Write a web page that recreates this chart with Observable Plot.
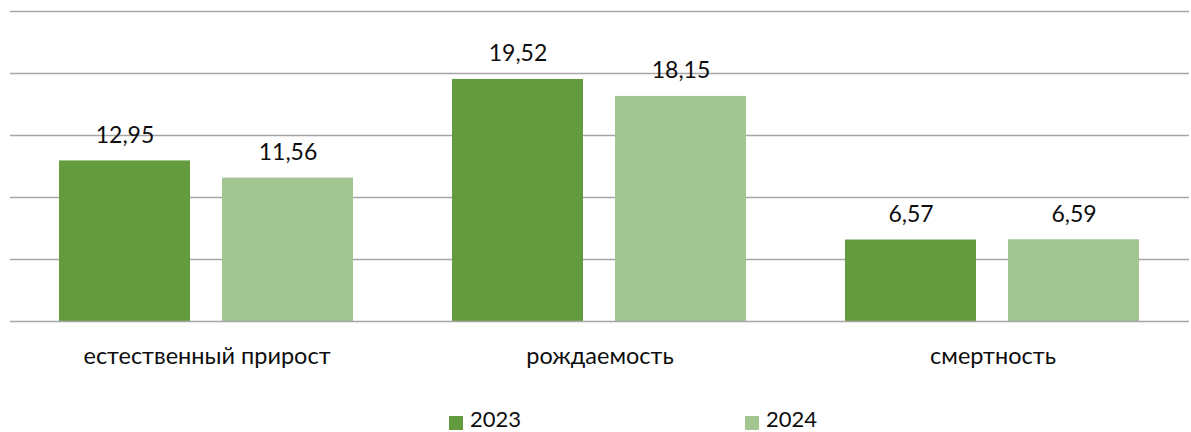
<!DOCTYPE html>
<html>
<head>
<meta charset="utf-8">
<script src="https://cdn.jsdelivr.net/npm/d3@7"></script>
<script src="https://cdn.jsdelivr.net/npm/@observablehq/plot@0.6"></script>
<style>
  html, body { margin: 0; padding: 0; background: #fff; }
  #wrap { position: relative; width: 1191px; height: 432px; overflow: hidden; font-family: Lato, "Open Sans", sans-serif; color: #0d0d0d; }
  .sw { position: absolute; top: 416px; width: 14px; height: 14px; }
  .tx { position: absolute; top: 405px; height: 27px; line-height: 27px; font-size: 22px; white-space: nowrap; }
</style>
</head>
<body>
<div id="wrap"></div>
<script>
const categories = ["естественный прирост", "рождаемость", "смертность"];
const years = ["2023", "2024"];
const values2023 = [12.95, 19.52, 6.57];
const values2024 = [11.56, 18.15, 6.59];
const colors = ["#639B3E", "#A3C592"];
const gridTicks = [5, 10, 15, 20, 25];

const rows = [];
categories.forEach((c, i) => {
  rows.push({category: c, year: years[0], value: values2023[i]});
  rows.push({category: c, year: years[1], value: values2024[i]});
});
const fmt = v => v.toFixed(2).replace(".", ",");

const chart = Plot.plot({
  width: 1191,
  height: 400,
  marginTop: 11,
  marginBottom: 79,
  marginLeft: 10,
  marginRight: 2,
  style: {fontFamily: 'Lato, "Open Sans", sans-serif', color: "#0d0d0d", background: "#fff"},
  fx: {domain: categories, padding: 0, label: null},
  x: {domain: years, paddingInner: 0.196, paddingOuter: 0.3035, axis: null},
  y: {domain: [0, 25], axis: null},
  color: {domain: years, range: colors},
  marks: [
    Plot.ruleY(gridTicks, {stroke: "#a6a6a6", strokeWidth: 1.6, strokeOpacity: 1}),
    Plot.barY(rows, {fx: "category", x: "year", y: "value", fill: "year"}),
    Plot.ruleY([0], {stroke: "#a6a6a6", strokeWidth: 1.6, strokeOpacity: 1}),
    Plot.text(rows, {fx: "category", x: "year", y: "value", text: d => fmt(d.value), lineAnchor: "bottom", dy: -18, fontSize: 23, fill: "#0d0d0d"}),
    Plot.axisFx({anchor: "bottom", tickSize: 0, tickPadding: 26, fontSize: 23.5, label: null, fill: "#0d0d0d"})
  ]
});

const wrap = document.getElementById("wrap");
wrap.appendChild(chart);
const legendPos = [449, 745];
years.forEach((y, i) => {
  const sw = document.createElement("div");
  sw.className = "sw";
  sw.style.left = legendPos[i] + "px";
  sw.style.background = colors[i];
  wrap.appendChild(sw);
  const tx = document.createElement("div");
  tx.className = "tx";
  tx.style.left = (legendPos[i] + 21) + "px";
  tx.textContent = y;
  wrap.appendChild(tx);
});
</script>
</body>
</html>
